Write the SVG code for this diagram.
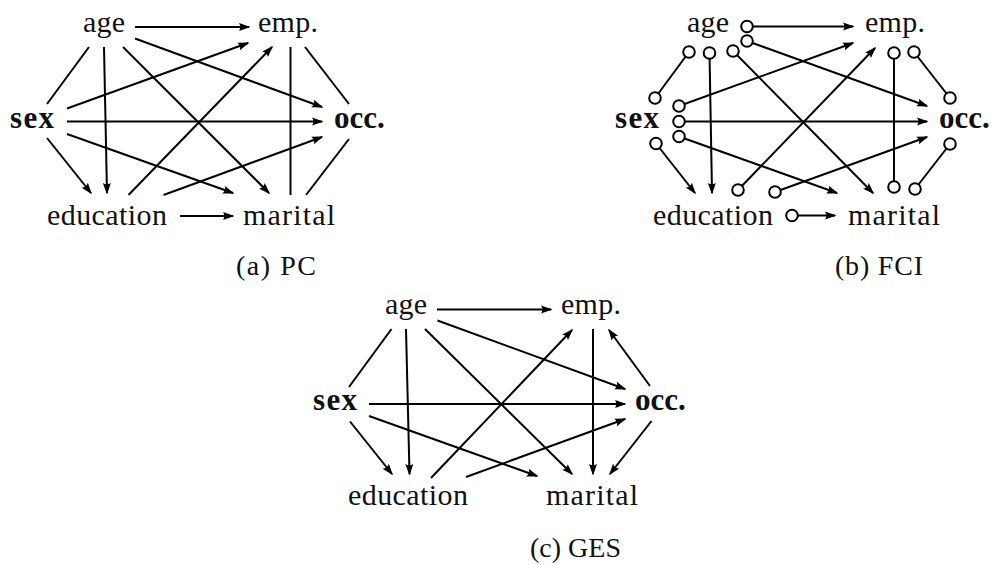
<svg xmlns="http://www.w3.org/2000/svg" width="995" height="565" viewBox="0 0 995 565">
<style>
.lbl{font-family:"Liberation Serif","Times New Roman",serif;font-size:30px;fill:#111;}
.b{font-weight:bold;font-size:31px;}
.cap{font-family:"Liberation Serif","Times New Roman",serif;font-size:28px;fill:#111;}
.e{stroke:#000;stroke-width:2;fill:none;}
.a{marker-end:url(#ah);}
.c{fill:#fff;stroke:#000;stroke-width:2;}
</style>
<defs>
<marker id="ah" markerUnits="userSpaceOnUse" markerWidth="15" markerHeight="10" viewBox="-13 -5 15 10" refX="0" refY="0" orient="auto">
<path d="M1.5,0 L-10,-4 Q-7.3,0 -10,4 Z" fill="#000"/>
</marker>
</defs>
<rect width="995" height="565" fill="#fff"/>

<!-- Panel (a) PC -->
<g id="panel-a">
<g id="a-edges">
<line class="e a" x1="135" y1="27" x2="249" y2="27"/>
<line class="e" x1="89" y1="47" x2="47" y2="104"/>
<line class="e a" x1="104" y1="47" x2="107" y2="193"/>
<line class="e a" x1="123" y1="47" x2="269" y2="193"/>
<line class="e a" x1="135" y1="38.5" x2="322" y2="107"/>
<line class="e a" x1="67" y1="108.5" x2="248" y2="43"/>
<line class="e a" x1="67" y1="121.5" x2="322" y2="121.5"/>
<line class="e a" x1="67" y1="134" x2="233" y2="193"/>
<line class="e a" x1="47" y1="138" x2="91" y2="193"/>
<line class="e a" x1="128.5" y1="195" x2="272" y2="47"/>
<line class="e a" x1="163.5" y1="195" x2="322" y2="137"/>
<line class="e a" x1="180" y1="216" x2="233" y2="216"/>
<line class="e" x1="290.5" y1="47" x2="290.5" y2="195"/>
<line class="e" x1="305" y1="47" x2="349" y2="104"/>
<line class="e" x1="349" y1="139" x2="306" y2="195"/>
</g>
<g id="a-age"><text class="lbl" x="83" y="32" textLength="42">age</text></g>
<g id="a-emp"><text class="lbl" x="258" y="32" textLength="60">emp.</text></g>
<g id="a-sex"><text class="lbl b" x="10" y="128" textLength="44">sex</text></g>
<g id="a-occ"><text class="lbl b" x="334" y="128">occ.</text></g>
<g id="a-education"><text class="lbl" x="47" y="225" textLength="120">education</text></g>
<g id="a-marital"><text class="lbl" x="243" y="225" textLength="92">marital</text></g>
<text class="cap" x="236" y="275" textLength="80">(a) PC</text>
</g>

<!-- Panel (b) FCI -->
<g id="panel-b">
<g id="b-edges">
<line class="e a" x1="747" y1="26.5" x2="853" y2="26.5"/>
<line class="e a" x1="747" y1="41" x2="927" y2="106"/>
<line class="e" x1="689" y1="52" x2="655" y2="98"/>
<line class="e a" x1="709.5" y1="53" x2="712" y2="193"/>
<line class="e a" x1="733" y1="51" x2="873" y2="193"/>
<line class="e a" x1="679" y1="106" x2="853" y2="43"/>
<line class="e a" x1="679" y1="121.5" x2="927" y2="121.5"/>
<line class="e a" x1="679" y1="136.5" x2="837" y2="193"/>
<line class="e a" x1="656" y1="143.5" x2="695" y2="193"/>
<line class="e a" x1="738" y1="190" x2="875" y2="48"/>
<line class="e a" x1="775" y1="192" x2="927" y2="137"/>
<line class="e a" x1="792" y1="215.5" x2="835" y2="215.5"/>
<line class="e" x1="894" y1="53" x2="894" y2="187"/>
<line class="e" x1="914" y1="52" x2="950" y2="98"/>
<line class="e" x1="950" y1="144" x2="915" y2="189"/>
<circle class="c" cx="747" cy="26.5" r="5.8"/>
<circle class="c" cx="747" cy="41" r="5.8"/>
<circle class="c" cx="689" cy="52" r="5.8"/>
<circle class="c" cx="655" cy="98" r="5.8"/>
<circle class="c" cx="709.5" cy="53" r="5.8"/>
<circle class="c" cx="733" cy="51" r="5.8"/>
<circle class="c" cx="679" cy="106" r="5.8"/>
<circle class="c" cx="679" cy="121.5" r="5.8"/>
<circle class="c" cx="679" cy="136.5" r="5.8"/>
<circle class="c" cx="656" cy="143.5" r="5.8"/>
<circle class="c" cx="738" cy="190" r="5.8"/>
<circle class="c" cx="775" cy="192" r="5.8"/>
<circle class="c" cx="792" cy="215.5" r="5.8"/>
<circle class="c" cx="894" cy="53" r="5.8"/>
<circle class="c" cx="894" cy="187" r="5.8"/>
<circle class="c" cx="914" cy="52" r="5.8"/>
<circle class="c" cx="950" cy="98" r="5.8"/>
<circle class="c" cx="950" cy="144" r="5.8"/>
<circle class="c" cx="915" cy="189" r="5.8"/>
</g>
<g id="b-age"><text class="lbl" x="687" y="32" textLength="42">age</text></g>
<g id="b-emp"><text class="lbl" x="865" y="32" textLength="60">emp.</text></g>
<g id="b-sex"><text class="lbl b" x="615" y="128" textLength="44">sex</text></g>
<g id="b-occ"><text class="lbl b" x="939" y="128">occ.</text></g>
<g id="b-education"><text class="lbl" x="653" y="225" textLength="120">education</text></g>
<g id="b-marital"><text class="lbl" x="848" y="225" textLength="92">marital</text></g>
<text class="cap" x="835" y="275" textLength="88">(b) FCI</text>
</g>

<!-- Panel (c) GES -->
<g id="panel-c">
<g id="c-edges">
<line class="e a" x1="437" y1="309.5" x2="551" y2="309.5"/>
<line class="e" x1="391.5" y1="329" x2="349" y2="387"/>
<line class="e a" x1="406" y1="329" x2="409.5" y2="474"/>
<line class="e a" x1="425" y1="329" x2="572" y2="474"/>
<line class="e a" x1="437.5" y1="320.5" x2="625" y2="389"/>
<line class="e a" x1="369" y1="404" x2="625" y2="404"/>
<line class="e a" x1="369" y1="416" x2="537" y2="476"/>
<line class="e a" x1="350" y1="421.5" x2="392" y2="474"/>
<line class="e a" x1="431" y1="478" x2="572" y2="330"/>
<line class="e a" x1="466" y1="477" x2="625" y2="419"/>
<line class="e a" x1="593" y1="329" x2="593" y2="474"/>
<line class="e a" x1="650" y1="386" x2="609" y2="330"/>
<line class="e a" x1="651.5" y1="421" x2="610" y2="474"/>
</g>
<g id="c-age"><text class="lbl" x="385" y="314" textLength="42">age</text></g>
<g id="c-emp"><text class="lbl" x="561" y="314" textLength="60">emp.</text></g>
<g id="c-sex"><text class="lbl b" x="313" y="410" textLength="44">sex</text></g>
<g id="c-occ"><text class="lbl b" x="635" y="410">occ.</text></g>
<g id="c-education"><text class="lbl" x="348" y="505" textLength="120">education</text></g>
<g id="c-marital"><text class="lbl" x="546" y="505" textLength="92">marital</text></g>
<text class="cap" x="530" y="557" textLength="91">(c) GES</text>
</g>
</svg>
